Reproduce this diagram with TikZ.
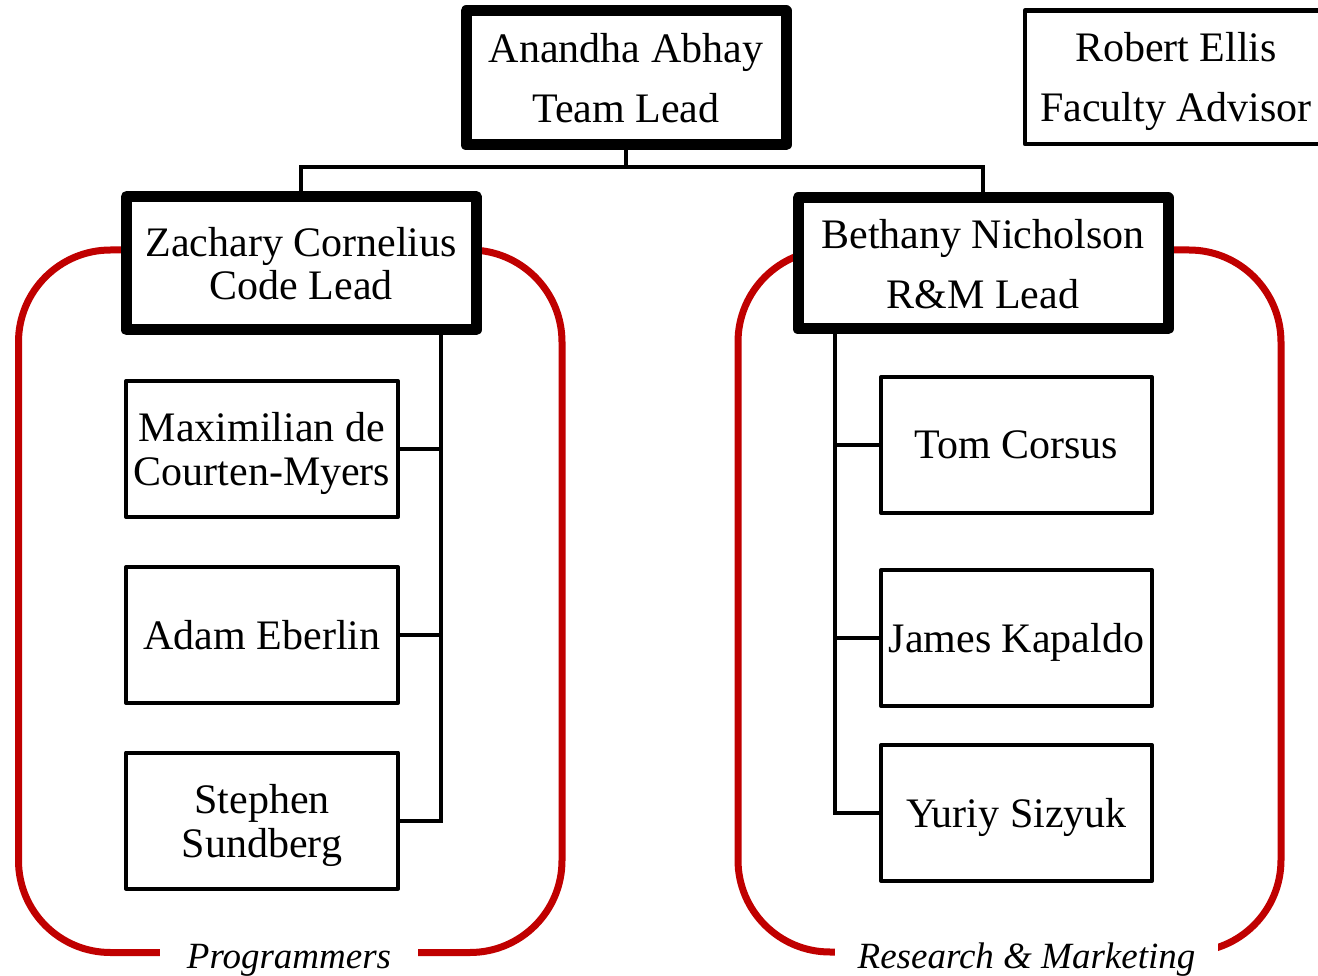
\documentclass[tikz,border=0pt]{standalone}
\usepackage{fontspec}
\setmainfont{Liberation Serif}
\definecolor{bracketred}{RGB}{192,0,0}
\begin{document}
\begin{tikzpicture}[x=1pt,y=-1pt,
  every node/.style={inner sep=0pt, outer sep=0pt, align=center, text depth=0pt},
  lead/.style={draw, line width=11pt, line join=round, fill=white, font=\fontsize{42}{60}\selectfont},
  member/.style={draw, line width=4pt, line join=round, fill=white, font=\fontsize{42}{44}\selectfont, minimum width=272pt, minimum height=136pt},
  conn/.style={line width=4pt},
  bracket/.style={draw=bracketred, line width=7pt, rounded corners=92pt},
  group/.style={fill=white, anchor=base, font=\fontsize{37}{44}\selectfont\itshape, text height=28pt, text depth=9pt}]
\useasboundingbox (0,0) rectangle (1318,976);
% group brackets
\draw[bracket] (18.5,250) rectangle (562,952.5);
\draw[bracket] (738,250) rectangle (1281,952);
% boxes
\node[lead, minimum width=320pt, minimum height=134pt] (aa) at (626,78) {Anandha Abhay\\Team Lead};
\node[draw, line width=4.5pt, line join=round, fill=white, font=\fontsize{42}{60}\selectfont, minimum width=302pt, minimum height=133.5pt] (re) at (1176,77.25) {Robert Ellis\\Faculty Advisor};
\node[lead, font=\fontsize{42}{43}\selectfont, minimum width=349.5pt, minimum height=133.5pt] (zc) at (301.25,263.25) {Zachary Cornelius\\Code Lead};
\node[lead, minimum width=370pt, minimum height=131pt] (bn) at (983,263.5) {Bethany Nicholson\\R\&M Lead};
\node[member] (md) at (262,449) {Maximilian de\\Courten-Myers};
\node[member] (ae) at (262,635) {Adam Eberlin};
\node[member] (ss) at (262,820.5) {Stephen\\Sundberg};
\node[member, minimum width=271pt] (tc) at (1016.5,445) {Tom Corsus};
\node[member, minimum width=271pt] (jk) at (1016.5,638) {James Kapaldo};
\node[member, minimum width=271pt] (ys) at (1016.5,813) {Yuriy Sizyuk};
% connectors
\draw[conn] (aa.south) -- ++(0,22) coordinate (j);
\draw[conn] (zc.north) |- (j) -| (bn.north);
\coordinate (lt) at ([xshift=-35pt]zc.south east);
\draw[conn] (lt) |- (ss.east);
\draw[conn] (md.east) -- (md.east -| lt);
\draw[conn] (ae.east) -- (ae.east -| lt);
\coordinate (rt) at ([xshift=37pt]bn.south west);
\draw[conn] (rt) |- (ys.west);
\draw[conn] (tc.west) -- (tc.west -| rt);
\draw[conn] (jk.west) -- (jk.west -| rt);
% group labels
\node[group, minimum width=258pt] (pg) at (289,968) {Programmers};
\node[group, minimum width=383pt] (rm) at (1026.5,968) {Research \& Marketing};
\end{tikzpicture}
\end{document}
